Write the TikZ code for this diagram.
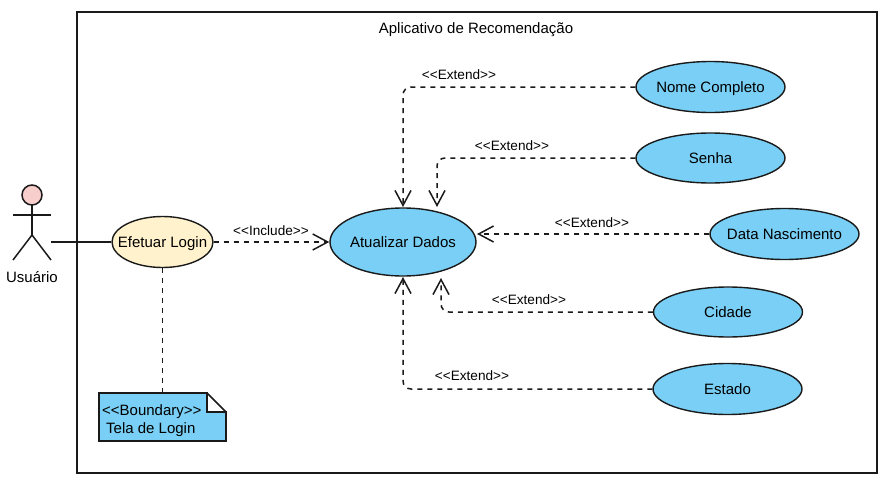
\documentclass[tikz,border=0pt]{standalone}
\usepackage{fontspec}
\setmainfont{Liberation Sans}
\usepackage[dvipsnames]{xcolor}
\usetikzlibrary{shapes.geometric}
\usetikzlibrary{arrows.meta}
\definecolor{ucblue}{HTML}{79CFF5}
\definecolor{uccream}{HTML}{FFF2CC}
\definecolor{ucpink}{HTML}{F8CECC}
\definecolor{ucline}{HTML}{1A1A1A}
\newcommand{\uctext}[1]{\makebox[0pt]{#1}}
\tikzset{
  usecase/.style={ellipse, draw=ucline, line width=1.4pt, fill=ucblue, inner sep=0pt,
    text height=11pt, text depth=0pt, font=\fontsize{15}{17}\selectfont},
  stereo/.style={font=\fontsize{13.6}{15}\selectfont, inner sep=0pt},
  bodytext/.style={font=\fontsize{15}{17}\selectfont, inner sep=0pt},
  depends/.style={dash pattern=on 5pt off 5pt, line width=1.5pt, draw=ucline, rounded corners=8pt,
    -{Straight Barb[length=15pt,width=16pt,line width=1.5pt]}},
  plainline/.style={line width=1.5pt, draw=ucline},
}
\begin{document}
\begin{tikzpicture}[x=1pt,y=-1pt]
\useasboundingbox (0,0) rectangle (884,479);

% System frame
\draw[plainline] (77,12) rectangle (877,473);
\node[bodytext] (title) at (476,30) {Aplicativo de Recomendação};

% Actor
\draw[plainline, fill=ucpink] (32,195) circle (10pt);
\draw[plainline] (32,205) -- (32,235);
\draw[plainline] (13,215) -- (51,215);
\draw[plainline] (13,260) -- (32,235) -- (51,260);
\coordinate (hand) at (51,242);
\node[bodytext] (user) at (32,277.5) {Usuário};

% Use cases
\node[usecase, fill=uccream, minimum width=101pt, minimum height=51pt] (login) at (162.5,242) {\uctext{Efetuar Login}};
\node[usecase, minimum width=146pt, minimum height=68pt] (update) at (403,242) {\uctext{Atualizar Dados}};
\node[usecase, minimum width=149pt, minimum height=51pt] (fullname) at (710.5,87) {\uctext{Nome Completo}};
\node[usecase, minimum width=149pt, minimum height=50pt] (password) at (710.5,158) {\uctext{Senha}};
\node[usecase, minimum width=149pt, minimum height=51pt] (birth) at (784.5,234) {\uctext{Data Nascimento}};
\node[usecase, minimum width=149pt, minimum height=50pt] (city) at (728,312) {\uctext{Cidade}};
\node[usecase, minimum width=149pt, minimum height=51pt] (state) at (727.5,389) {\uctext{Estado}};

% Boundary note
\draw[plainline, fill=ucblue] (99,393) -- (207,393) -- (207,412) -- (226,412) -- (226,441) -- (99,441) -- cycle;
\draw[plainline] (207,393) -- (226,412);
\coordinate (notetop) at (162.5,393);
\node[bodytext, anchor=west] (boundary) at (102,412) {<{}<Boundary>{}>};
\node[bodytext, anchor=west] (screen) at (106,430) {Tela de Login};

% Connectors
\draw[plainline] (hand) -- (login);
\draw[plainline, dash pattern=on 5pt off 5pt] (login) -- (notetop);
\draw[depends] (login) -- (update);

% Free ends beside the top and the bottom of the ellipse
\coordinate (topleft) at (403,207);
\coordinate (topright) at (437,207);
\coordinate (side) at (477,234);
\coordinate (botright) at (441,278);
\coordinate (botleft) at (403,277);

\draw[depends] (fullname) -| (topleft);
\draw[depends] (password) -| (topright);
\draw[depends] (birth) -- (side);
\draw[depends] (city) -| (botright);
\draw[depends] (state) -| (botleft);

% Labels
\node[stereo] (inc) at (271,231) {<{}<Include>{}>};
\node[stereo] (ext1) at (459,75) {<{}<Extend>{}>};
\node[stereo] (ext2) at (512,146) {<{}<Extend>{}>};
\node[stereo] (ext3) at (592,223) {<{}<Extend>{}>};
\node[stereo] (ext4) at (529,300) {<{}<Extend>{}>};
\node[stereo] (ext5) at (472,376) {<{}<Extend>{}>};

\end{tikzpicture}
\end{document}
